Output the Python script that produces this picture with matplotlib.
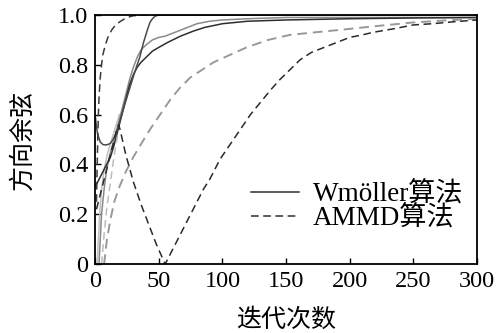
import matplotlib
matplotlib.use("Agg")
import matplotlib.pyplot as plt
from matplotlib.lines import Line2D

# ---- data ----
# Wmöller (solid) curves
s1_x = [0, 1, 2, 4, 6, 8, 10, 12, 14, 16, 18, 20, 22, 25, 28, 31, 35, 38, 41, 43, 45, 47, 50, 300]
s1_y = [0.60, 0.55, 0.52, 0.49, 0.48, 0.478, 0.48, 0.485, 0.50, 0.52, 0.55, 0.585, 0.62, 0.67, 0.72,
        0.77, 0.83, 0.89, 0.94, 0.97, 0.985, 0.995, 1.0, 1.0]

s2_x = [0, 2, 4, 6, 8, 10, 12, 15, 18, 21, 24, 27, 30, 33, 36, 40, 45, 50, 57, 67, 77, 86, 100,
        120, 150, 200, 250, 300]
s2_y = [0.31, 0.33, 0.35, 0.37, 0.39, 0.41, 0.43, 0.48, 0.54, 0.60, 0.66, 0.72, 0.76, 0.79, 0.81,
        0.83, 0.855, 0.87, 0.89, 0.915, 0.935, 0.95, 0.965, 0.975, 0.98, 0.985, 0.988, 0.99]

s3_x = [3, 4, 5, 7, 9, 12, 15, 18, 21, 24, 27, 30, 33, 36, 40, 45, 50, 55, 60, 70, 80, 90, 100,
        120, 150, 300]
s3_y = [0.0, 0.10, 0.20, 0.30, 0.38, 0.45, 0.50, 0.56, 0.62, 0.68, 0.74, 0.79, 0.83, 0.86, 0.88,
        0.90, 0.91, 0.915, 0.925, 0.945, 0.965, 0.975, 0.98, 0.985, 0.99, 0.99]

s4_x = [1.5, 2.5, 3.5, 5, 7, 10, 13, 16, 19]
s4_y = [0.0, 0.10, 0.20, 0.30, 0.38, 0.45, 0.50, 0.55, 0.60]

# AMMD (dashed) curves
d1_x = [1, 1.5, 2, 2.5, 3, 4, 5, 6, 8, 10, 13, 16, 20, 25, 30, 40, 300]
d1_y = [0.25, 0.38, 0.50, 0.60, 0.67, 0.75, 0.80, 0.84, 0.88, 0.91, 0.94, 0.96, 0.975, 0.99,
        0.997, 1.0, 1.0]

d2_x = [1, 3, 6, 9, 12, 15, 17, 18.5, 20, 24, 30, 36, 42, 48, 55, 60, 65, 70, 75, 80, 85, 90,
        98, 106, 114, 122, 130, 138, 145, 153, 161, 170, 180, 190, 200, 210, 218, 235, 250, 265,
        280, 300]
d2_y = [0.22, 0.26, 0.32, 0.38, 0.44, 0.50, 0.54, 0.56, 0.53, 0.44, 0.33, 0.24, 0.16, 0.08, 0.0,
        0.05, 0.10, 0.15, 0.20, 0.25, 0.30, 0.34, 0.42, 0.48, 0.54, 0.60, 0.65, 0.70, 0.74, 0.78,
        0.82, 0.85, 0.87, 0.89, 0.91, 0.92, 0.93, 0.945, 0.96, 0.965, 0.972, 0.98]

d3_x = [7, 9, 12, 15, 19, 24, 30, 37, 43, 51, 59, 67, 75, 84, 93, 106, 119, 136, 153, 172, 192,
        220, 250, 275, 300]
d3_y = [0.0, 0.09, 0.18, 0.25, 0.31, 0.37, 0.43, 0.49, 0.54, 0.60, 0.66, 0.71, 0.75, 0.78, 0.81,
        0.84, 0.87, 0.90, 0.92, 0.93, 0.94, 0.955, 0.97, 0.978, 0.985]

d4_x = [5, 7, 9, 12, 15, 18]
d4_y = [0.0, 0.12, 0.22, 0.33, 0.44, 0.53]

x_ticks = [0, 50, 100, 150, 200, 250, 300]
y_ticks = [0, 0.2, 0.4, 0.6, 0.8, 1.0]
y_tick_labels = ["0", "0.2", "0.4", "0.6", "0.8", "1.0"]
legend_labels = ["Wmöller算法", "AMMD算法"]
x_label = "迭代次数"
y_label = "方向余弦"

fonts = ["Liberation Serif", "Noto Sans CJK SC"]
plt.rcParams["font.family"] = fonts

fig = plt.figure(figsize=(5.01, 3.33), dpi=100)
ax = fig.add_axes([0.19, 0.207, 0.762, 0.748])

lw = 1.1
ax.plot(s4_x, s4_y, color="#c0c0c0", lw=lw)
ax.plot(s3_x, s3_y, color="#8a8a8a", lw=lw)
ax.plot(s2_x, s2_y, color="#2e2e2e", lw=lw)
ax.plot(s1_x, s1_y, color="#4a4a4a", lw=lw)

dash = (0, (5, 3))
ax.plot(d4_x, d4_y, color="#bdbdbd", lw=lw, linestyle=dash)
ax.plot(d3_x, d3_y, color="#999999", lw=lw + 0.3, linestyle=dash)
ax.plot(d2_x, d2_y, color="#2a2a2a", lw=lw, linestyle=dash)
ax.plot(d1_x, d1_y, color="#3a3a3a", lw=lw, linestyle=dash)

ax.set_xlim(0, 300)
ax.set_ylim(0, 1.0)
ax.set_xticks(x_ticks)
ax.set_yticks(y_ticks)
ax.set_yticklabels(y_tick_labels)
ax.tick_params(direction="in", length=4, width=1, labelsize=17.5, pad=5)
for sp in ax.spines.values():
    sp.set_linewidth(1.3)

ax.set_xlabel(x_label, fontsize=18, family=["Noto Sans CJK SC"], labelpad=11)
ax.set_ylabel(y_label, fontsize=18, family=["Noto Sans CJK SC"], labelpad=16)

handles = [Line2D([], [], color="#2e2e2e", lw=lw),
           Line2D([], [], color="#2e2e2e", lw=lw, linestyle=(0, (5, 3)))]
ax.legend(handles, legend_labels, loc="lower right", bbox_to_anchor=(1.0, 0.075),
          frameon=False, fontsize=19.5, handlelength=1.8, handletextpad=0.5,
          labelspacing=-0.05, borderpad=0.2, borderaxespad=0.3)

fig.savefig("out.png", dpi=100)
